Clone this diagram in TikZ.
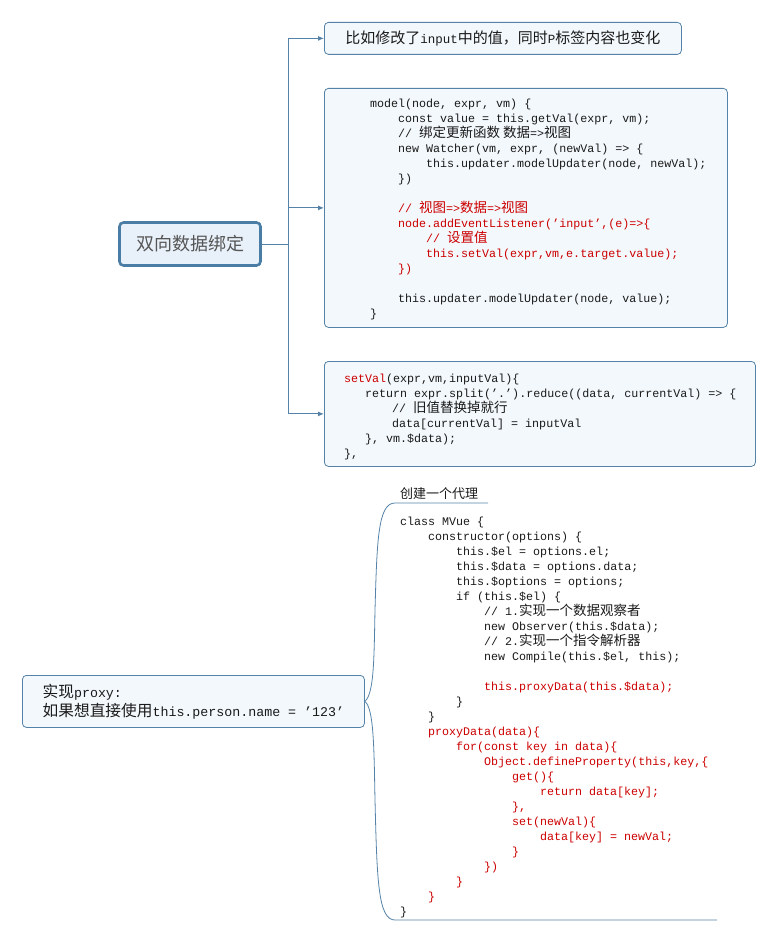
\documentclass[tikz,border=0pt]{standalone}
\usepackage{fontspec}
\setmainfont{Liberation Mono}
\newfontfamily\cjk{Noto Sans CJK SC}
\usetikzlibrary{arrows.meta,positioning}

\definecolor{linkblue}{HTML}{5582A8}
\definecolor{rootblue}{HTML}{4A7DA6}
\definecolor{rootfill}{HTML}{E8F0F9}
\definecolor{boxfill}{HTML}{F3F8FC}
\definecolor{rootgray}{HTML}{555555}
\definecolor{codeblack}{HTML}{1A1A1A}
\definecolor{codered}{HTML}{CC0000}

\newcommand\ind[1]{\hspace*{#1pt}}
\newcommand\zh[2][13.5]{{\cjk\fontsize{#1}{15}\selectfont #2}}
\newcommand\hl[1]{\textcolor{codered}{#1}}
\newcommand\firstline{\rule{0pt}{11pt}}

\begin{document}
\begin{tikzpicture}[
    x=1pt, y=-1pt,
    root/.style={draw=rootblue, line width=2.6pt, rounded corners=4pt, fill=rootfill,
      text=rootgray, font=\cjk\fontsize{18}{22}\selectfont,
      minimum width=141pt, minimum height=43pt, inner sep=0pt},
    topic/.style={draw=linkblue, line width=0.8pt, rounded corners=4pt, fill=boxfill, inner sep=0pt},
    code/.style={align=left, inner sep=0pt, text=codeblack, font=\fontsize{11.67}{15}\selectfont},
    link/.style={draw=linkblue, line width=1pt},
    arr/.style={link, -{Latex[length=6pt,width=5pt]}}
  ]
    \useasboundingbox (0,0) rectangle (776,941);

    % 中心主题
    \node[root] (bind) at (190,244) {双向数据绑定};

    % 三个分支
    \node[topic, minimum width=357pt, minimum height=32pt, anchor=north west,
      text=codeblack, font=\fontsize{12.5}{15}\selectfont] (note) at (324,22)
      {\zh[15]{比如修改了}input\zh[15]{中的值，同时}P\zh[15]{标签内容也变化}};
    \node[topic, minimum width=403pt, minimum height=239pt, anchor=north west] (model) at (324,88) {};
    \node[topic, minimum width=431pt, minimum height=105pt, anchor=north west] (setval) at (324,361) {};

    \node[code, anchor=north west] (modelcode) at (370,96) {%
      \firstline model(node, expr, vm) \{\\
      \ind{28}const value = this.getVal(expr, vm);\\
      \ind{28}// \zh{绑定更新函数 数据}=>\zh{视图}\\
      \ind{28}new Watcher(vm, expr, (newVal) => \{\\
      \ind{56}this.updater.modelUpdater(node, newVal);\\
      \ind{28}\})\\
      \mbox{}\\
      \hl{\ind{28}// \zh{视图}=>\zh{数据}=>\zh{视图}}\\
      \hl{\ind{28}node.addEventListener('input',(e)=>\{}\\
      \hl{\ind{56}// \zh{设置值}}\\
      \hl{\ind{56}this.setVal(expr,vm,e.target.value);}\\
      \hl{\ind{28}\})}\\
      \mbox{}\\
      \ind{28}this.updater.modelUpdater(node, value);\\
      \}};

    \node[code, anchor=north west] (setvalcode) at (344,371) {%
      \firstline\hl{setVal}(expr,vm,inputVal)\{\\
      \ind{21}return expr.split('.').reduce((data, currentVal) => \{\\
      \ind{48}// \zh{旧值替换掉就行}\\
      \ind{48}data[currentVal] = inputVal\\
      \ind{21}\}, vm.\$data);\\
      \},};

    % 分支连线
    \draw[link] (bind.east) -- ++(27,0) coordinate (fork);
    \draw[arr] (fork) |- (note.west);
    \draw[arr] (fork) |- (model.west);
    \draw[arr] (fork) |- (setval.west);

    % 第二个主题: proxy
    \node[topic, minimum width=342pt, minimum height=52pt, align=left, anchor=north west,
      text=codeblack, font=\fontsize{13.3}{19}\selectfont] (proxy) at (22,675)
      {\zh[15.7]{实现}proxy:\\\zh[15.7]{如果想直接使用}this.person.name = '123'};

    \node[anchor=base west, inner sep=0pt, text=codeblack,
      font=\cjk\fontsize{13}{15}\selectfont] (proxylabel) at (400,498) {创建一个代理};

    \coordinate (topend) at (488,503);
    \coordinate (botend) at (717,920);

    % 括号
    \draw[link, line width=0.8pt] (proxy.east)
      .. controls (374,694) and (374,660) .. (375,610)
      .. controls (377,540) and (378,503) .. (395,503) -- (topend);
    \draw[link, line width=0.8pt] (proxy.east)
      .. controls (374,708) and (374,750) .. (375,800)
      .. controls (377,880) and (378,920) .. (395,920) -- (botend);

    \node[code, anchor=north west] (mvuecode) at (400,514) {%
      \firstline class MVue \{\\
      \ind{28}constructor(options) \{\\
      \ind{56}this.\$el = options.el;\\
      \ind{56}this.\$data = options.data;\\
      \ind{56}this.\$options = options;\\
      \ind{56}if (this.\$el) \{\\
      \ind{84}// 1.\zh{实现一个数据观察者}\\
      \ind{84}new Observer(this.\$data);\\
      \ind{84}// 2.\zh{实现一个指令解析器}\\
      \ind{84}new Compile(this.\$el, this);\\
      \mbox{}\\
      \hl{\ind{84}this.proxyData(this.\$data);}\\
      \ind{56}\}\\
      \ind{28}\}\\
      \hl{\ind{28}proxyData(data)\{}\\
      \hl{\ind{56}for(const key in data)\{}\\
      \hl{\ind{84}Object.defineProperty(this,key,\{}\\
      \hl{\ind{112}get()\{}\\
      \hl{\ind{140}return data[key];}\\
      \hl{\ind{112}\},}\\
      \hl{\ind{112}set(newVal)\{}\\
      \hl{\ind{140}data[key] = newVal;}\\
      \hl{\ind{112}\}}\\
      \hl{\ind{84}\})}\\
      \hl{\ind{56}\}}\\
      \hl{\ind{28}\}}\\
      \}};
\end{tikzpicture}
\end{document}
